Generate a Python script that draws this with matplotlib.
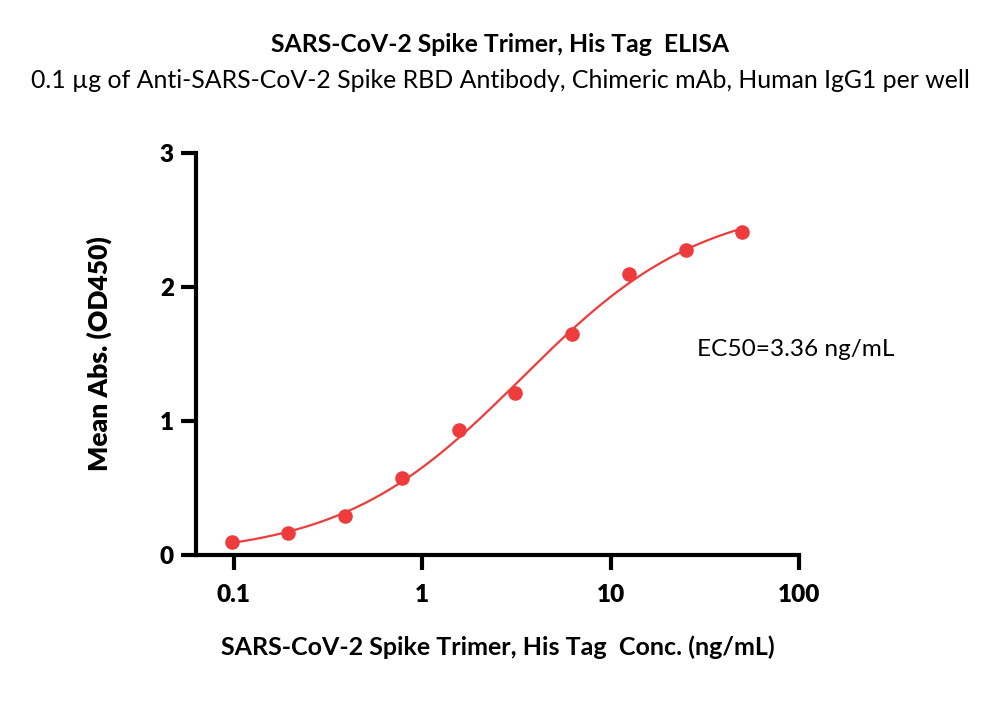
import matplotlib
matplotlib.use("Agg")
import matplotlib.pyplot as plt
import numpy as np

plt.rcParams['font.family'] = ['Lato', 'DejaVu Sans']

conc = np.array([0.0977, 0.195, 0.39, 0.78, 1.5625, 3.125, 6.25, 12.5, 25, 50])
od450 = np.array([0.097, 0.164, 0.29, 0.575, 0.93, 1.21, 1.65, 2.10, 2.28, 2.41])
ec50 = 3.36

# 4PL fit with EC50 fixed, Hill slope by grid search, bottom/top by least squares
best = None
for h in np.linspace(0.5, 2.0, 301):
    f = 1.0 / (1.0 + (ec50 / conc) ** h)
    A = np.column_stack([1 - f, f])
    coef, res, _, _ = np.linalg.lstsq(A, od450, rcond=None)
    err = np.sum((A @ coef - od450) ** 2)
    if best is None or err < best[0]:
        best = (err, h, coef)
_, hill, (bottom, top) = best

xs = np.logspace(np.log10(conc[0]), np.log10(conc[-1]), 300)
ys = bottom + (top - bottom) / (1 + (ec50 / xs) ** hill)

red = '#EE3B3B'
fig = plt.figure(figsize=(10, 7.26), dpi=100)
ax = fig.add_axes([0.196, 0.2355, 0.603, 0.5537])

ax.plot(xs, ys, color=red, lw=1.6)
ax.plot(conc, od450, 'o', color=red, ms=10.5, mec='none')

ax.set_xscale('log')
ax.set_xlim(0.063, 100)
ax.set_ylim(0, 3)
ax.set_xticks([0.1, 1, 10, 100])
ax.set_xticklabels(['0.1', '1', '10', '100'])
ax.set_yticks([0, 1, 2, 3])
ax.minorticks_off()

for s in ['top', 'right']:
    ax.spines[s].set_visible(False)
for s in ['left', 'bottom']:
    ax.spines[s].set_linewidth(3)
ax.tick_params(width=3, length=11, labelsize=17.5)
ax.tick_params(axis='x', pad=10)
ax.tick_params(axis='y', pad=5)
for lab in ax.get_xticklabels() + ax.get_yticklabels():
    lab.set_fontweight('heavy')

ax.set_xlabel('SARS-CoV-2 Spike Trimer, His Tag  Conc. (ng/mL)', fontsize=18, fontweight='bold', labelpad=21)
ax.set_ylabel('Mean Abs. (OD450)', fontsize=19, fontweight='heavy', labelpad=34)

ax.text(0.831, 0.512, 'EC50=3.36 ng/mL', transform=ax.transAxes, fontsize=17.6, ha='left', va='center')

fig.text(0.5, 0.939, 'SARS-CoV-2 Spike Trimer, His Tag  ELISA', fontsize=17.8, fontweight='bold', ha='center', va='center')
fig.text(0.5, 0.889, '0.1 µg of Anti-SARS-CoV-2 Spike RBD Antibody, Chimeric mAb, Human IgG1 per well', fontsize=17.9, ha='center', va='center')

fig.savefig('out.png', dpi=100)
